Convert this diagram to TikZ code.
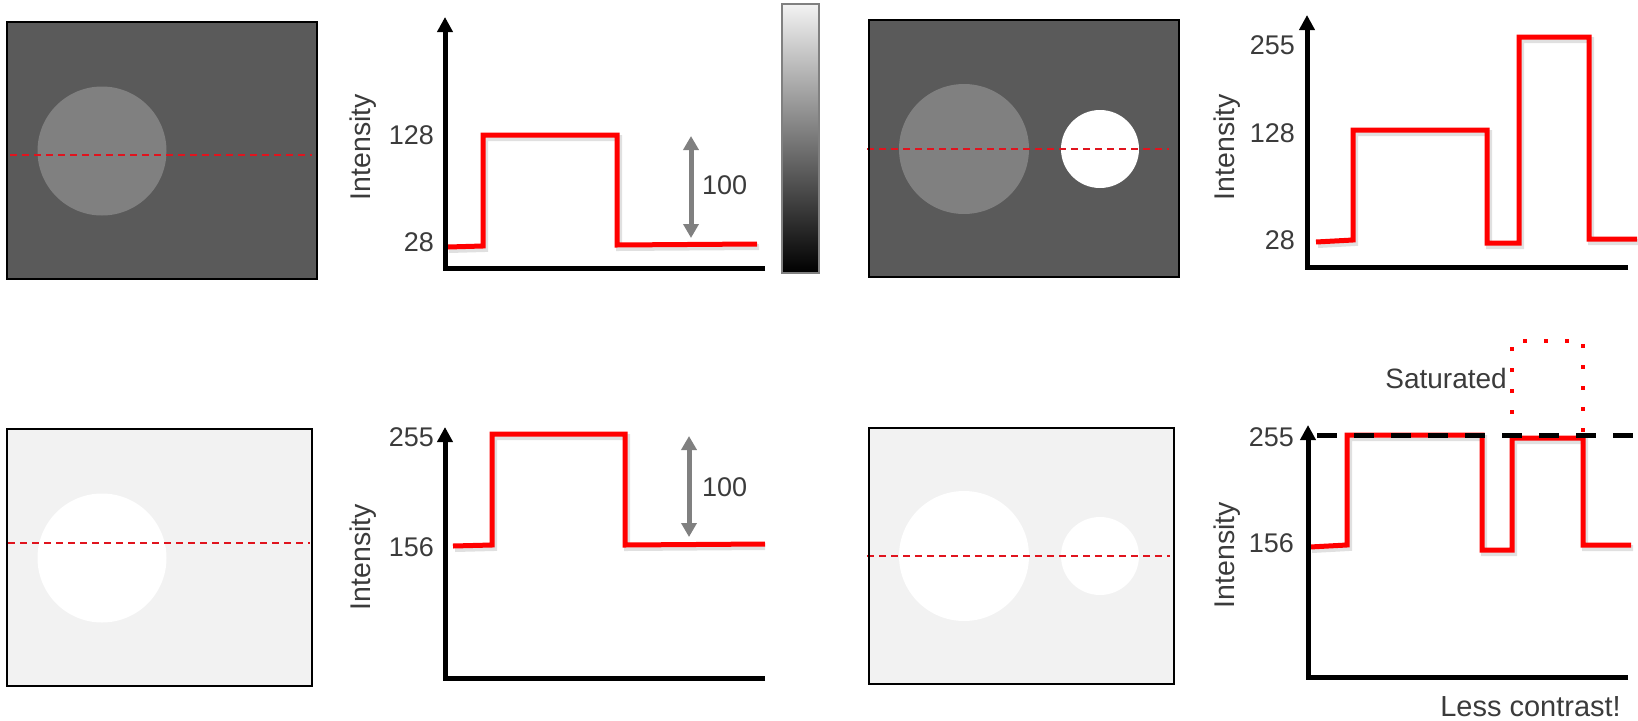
\documentclass[tikz,border=0pt]{standalone}
\usepackage{fontspec}
\setmainfont{Liberation Sans}
\usetikzlibrary{arrows.meta}
\definecolor{bgdark}{HTML}{5A5A5A}
\definecolor{circgray}{HTML}{808080}
\definecolor{bglight}{HTML}{F2F2F2}
\definecolor{txt}{HTML}{3B3B3B}
\definecolor{midgray}{HTML}{808080}
\definecolor{scanred}{HTML}{E0141E}
\begin{document}
\begin{tikzpicture}[x=1pt,y=-1pt,
  imgbox/.style={draw=black,line width=1.5pt},
  scanline/.style={draw=scanred,line width=2pt,dash pattern=on 7pt off 5pt},
  axisline/.style={draw=black,line width=5pt,line join=miter,-{Triangle[width=15pt,length=15pt]}},
  profile/.style={draw=red,line width=5pt,line join=miter},
  numlab/.style={anchor=east,text=txt,font=\fontsize{27}{32}\selectfont,inner sep=0pt},
  axlab/.style={rotate=90,text=txt,font=\fontsize{28.5}{33}\selectfont,inner sep=0pt},
  wordlab/.style={text=txt,font=\fontsize{28}{32}\selectfont,inner sep=0pt},
  difflab/.style={anchor=west,text=txt,font=\fontsize{27}{32}\selectfont,inner sep=0pt},
  diffarrow/.style={draw=midgray,line width=5pt,{Triangle[width=15pt,length=14pt]}-{Triangle[width=15pt,length=14pt]}},
  shadowline/.style={draw=black,opacity=0.12,line width=6pt}
]
\useasboundingbox (0,0) rectangle (1638,720);

% ---------- Panel 1: dark image, one circle ----------
\fill[bgdark] (7,22) rectangle (317,279);
\fill[circgray] (102,151) circle[radius=64.5];
\draw[scanline] (10,155) -- (312,155);
\draw[imgbox] (7,22) rectangle (317,279);

% ---------- Chart 1 ----------
\draw[shadowline] (449,250) -- (485,249) -- (485,138) -- (619,138) -- (619,248) -- (759,247);
\draw[profile] (448,247) -- (483,246) -- (483,135) -- (617,135) -- (617,245) -- (757,244);
\draw[axisline] (765,268) -- (445,268) -- (445,17);
\node[numlab] (a128) at (434,135) {128};
\node[numlab] (a28) at (434,242) {28};
\node[axlab] (aint) at (363,147) {Intensity};
\coordinate (atop) at (691,136);
\coordinate (abot) at (691,238);
\draw[diffarrow] (atop) -- (abot);
\node[difflab] (a100) at (702,185) {100};

% ---------- Colour bar ----------
\shade[top color=bglight,bottom color=black] (782,4) rectangle (819,273);
\draw[draw=gray,line width=1.2pt] (782,4) rectangle (819,273);

% ---------- Panel 3: dark image, two circles ----------
\fill[bgdark] (869,20) rectangle (1179,277);
\fill[circgray] (964,149) circle[radius=65];
\fill[white] (1100,149) circle[radius=39];
\draw[scanline] (867,149) -- (1169,149);
\draw[imgbox] (869,20) rectangle (1179,277);

% ---------- Chart 4 ----------
\draw[shadowline] (1318,245) -- (1355,243) -- (1355,133) -- (1489,133) -- (1489,246) -- (1521,246) -- (1521,40) -- (1591,40) -- (1591,242) -- (1638,242);
\draw[profile] (1316,242) -- (1353,240) -- (1353,130) -- (1487,130) -- (1487,243) -- (1519,243) -- (1519,37) -- (1589,37) -- (1589,239) -- (1637,239);
\draw[axisline] (1628,267) -- (1307,267) -- (1307,15);
\node[numlab] (b255) at (1295,45) {255};
\node[numlab] (b128) at (1295,133) {128};
\node[numlab] (b28) at (1295,240) {28};
\node[axlab] (bint) at (1227,147) {Intensity};

% ---------- Panel 5: light image, one circle ----------
\fill[bglight] (7,429) rectangle (312,686);
\fill[white] (102,558) circle[radius=64.5];
\draw[scanline] (8,543) -- (310,543);
\draw[imgbox] (7,429) rectangle (312,686);

% ---------- Chart 6 ----------
\draw[shadowline] (455,549) -- (494,548) -- (494,437) -- (627,437) -- (627,548) -- (765,547);
\draw[profile] (453,546) -- (492,545) -- (492,434) -- (625,434) -- (625,545) -- (765,544);
\draw[axisline] (765,678) -- (445,678) -- (445,427);
\node[numlab] (c255) at (434,437) {255};
\node[numlab] (c156) at (434,547) {156};
\node[axlab] (cint) at (363,557) {Intensity};
\coordinate (ctop) at (689,436);
\coordinate (cbot) at (689,537);
\draw[diffarrow] (ctop) -- (cbot);
\node[difflab] (c100) at (702,487) {100};

% ---------- Panel 7: light image, two circles ----------
\fill[bglight] (869,428) rectangle (1174,684);
\fill[white] (964,556) circle[radius=65];
\fill[white] (1100,556) circle[radius=39];
\draw[scanline] (867,556) -- (1170,556);
\draw[imgbox] (869,428) rectangle (1174,684);

% ---------- Chart 8 ----------
\draw[shadowline] (1312,550) -- (1349,548) -- (1349,438) -- (1484,438) -- (1484,553) -- (1514,553) -- (1514,441) -- (1585,441) -- (1585,548) -- (1633,548);
\draw[profile] (1310,547) -- (1347,545) -- (1347,435) -- (1482,435) -- (1482,550) -- (1512,550) -- (1512,438) -- (1583,438) -- (1583,545) -- (1631,545);
\draw[draw=red,line width=4pt,dash pattern=on 4pt off 17pt] (1512,414) -- (1512,341) -- (1583,341) -- (1583,432);
\draw[draw=black,line width=5pt,dash pattern=on 20pt off 17pt] (1317,435) -- (1638,435);
\draw[axisline] (1628,677) -- (1308,677) -- (1308,425);
\node[numlab] (d255) at (1294,437) {255};
\node[numlab] (d156) at (1294,543) {156};
\node[axlab] (dint) at (1227,555) {Intensity};
\node[wordlab,anchor=east] (dsat) at (1507,378) {Saturated};
\node[wordlab,anchor=base east,font=\fontsize{29}{33}\selectfont] (dless) at (1621,716) {Less contrast!};
\end{tikzpicture}
\end{document}
